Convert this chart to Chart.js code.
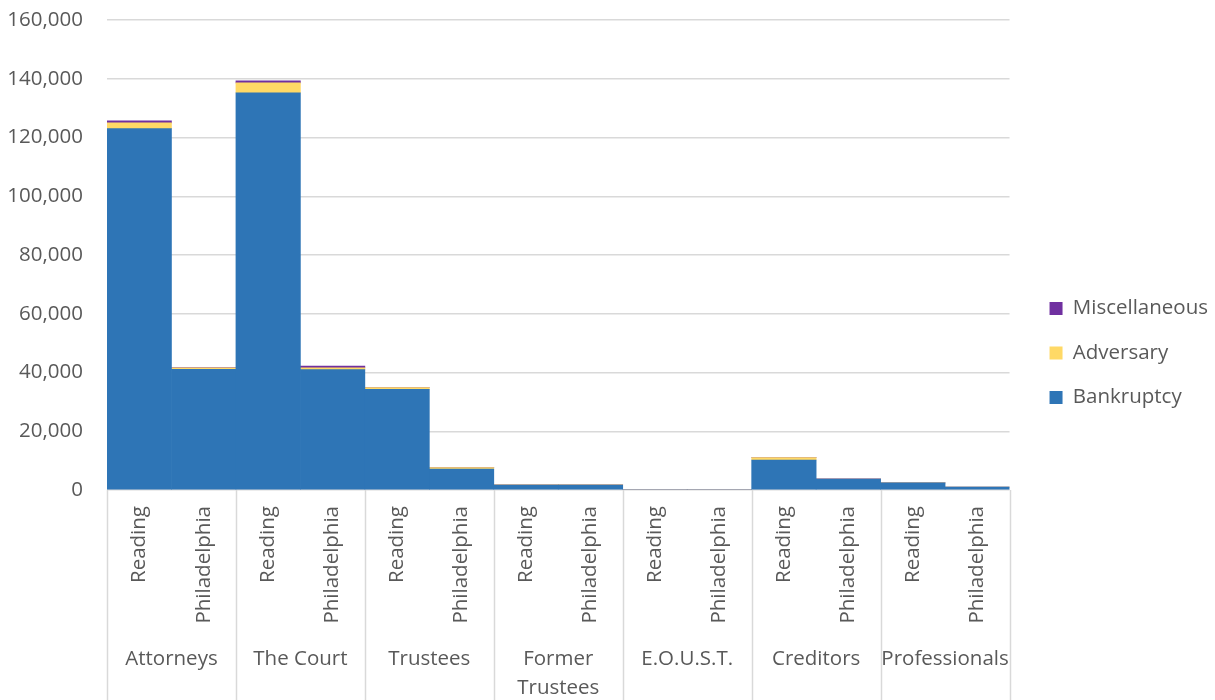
<!DOCTYPE html>
<html>
<head>
<meta charset="utf-8">
<script src="https://cdn.jsdelivr.net/npm/chart.js@4"></script>
<style>
  html, body { margin: 0; padding: 0; background: #fff; }
  #wrap { width: 1215px; height: 700px; }
</style>
</head>
<body>
<div id="wrap"><canvas id="chart" width="1215" height="700"></canvas></div>
<script>
// categories
const groups = ['Attorneys', 'The Court', 'Trustees', ['Former', 'Trustees'], 'E.O.U.S.T.', 'Creditors', 'Professionals'];
const sites = ['Reading', 'Philadelphia'];

// series values (Reading, Philadelphia per group)
const bankruptcy    = [123000, 41100, 135200, 41000, 34300, 7100, 1700, 1700, 0, 0, 10200, 3700, 2400, 1000];
const adversary     = [2000, 500, 3400, 600, 600, 500, 60, 50, 0, 0, 800, 60, 40, 20];
const miscellaneous = [700, 100, 700, 600, 60, 30, 10, 10, 0, 0, 40, 10, 10, 10];

const yTicks = [0, 20000, 40000, 60000, 80000, 100000, 120000, 140000, 160000];

const subLabels = [];
groups.forEach(() => sites.forEach(s => subLabels.push(s)));

const txt = '#595959';
const grid = '#d9d9d9';
const font = { family: '"Open Sans", sans-serif', size: 20.5 };

// separator lines between groups, down through the label area
const groupLines = {
    id: 'groupLines',
    afterDraw(chart) {
        const ctx = chart.ctx;
        const x = chart.scales.x;
        const area = chart.chartArea;
        const w = x.getPixelForValue(1) - x.getPixelForValue(0);
        ctx.save();
        ctx.strokeStyle = grid;
        ctx.lineWidth = 1.5;
        for (let i = 0; i <= groups.length; i++) {
            const px = Math.round(x.getPixelForValue(i * sites.length) - w / 2) + 0.5;
            ctx.beginPath();
            ctx.moveTo(px, area.bottom);
            ctx.lineTo(px, chart.height);
            ctx.stroke();
        }
        ctx.restore();
    }
};

function noVPad(axis) {
    axis.paddingTop = 0;
    axis.paddingBottom = 0;
}

new Chart(document.getElementById('chart'), {
    type: 'bar',
    data: {
        labels: subLabels,
        datasets: [
            { label: 'Bankruptcy', data: bankruptcy, backgroundColor: '#2e75b6' },
            { label: 'Adversary', data: adversary, backgroundColor: '#ffd966' },
            { label: 'Miscellaneous', data: miscellaneous, backgroundColor: '#7030a0' }
        ]
    },
    options: {
        responsive: false,
        animation: false,
        barPercentage: 1,
        categoryPercentage: 1,
        layout: { padding: { left: 8, top: 6, right: -3, bottom: 0 } },
        plugins: {
            legend: {
                position: 'right',
                reverse: true,
                labels: { boxWidth: 13, boxHeight: 13, padding: 24, color: txt, font: font }
            },
            tooltip: { enabled: false }
        },
        scales: {
            x: {
                stacked: true,
                grid: { display: false, drawTicks: false },
                border: { display: false },
                ticks: { color: txt, font: font, minRotation: 90, maxRotation: 90, padding: 16, autoSkip: false },
                afterFit(axis) { axis.height = 136; noVPad(axis); }
            },
            x2: {
                type: 'category',
                labels: groups,
                offset: true,
                position: 'bottom',
                grid: { display: false, drawTicks: false },
                border: { display: false },
                ticks: { color: txt, font: { family: font.family, size: font.size, lineHeight: 1.4 }, maxRotation: 0, padding: 19, autoSkip: false },
                afterFit(axis) { axis.height = 74; noVPad(axis); }
            },
            y: {
                stacked: true,
                min: 0,
                max: 160000,
                afterBuildTicks(axis) { axis.ticks = yTicks.map(v => ({ value: v })); },
                grid: { color: grid, lineWidth: 1.5, drawTicks: false },
                border: { display: false },
                ticks: {
                    color: txt, font: font, padding: 24,
                    callback: v => v.toLocaleString('en-US')
                },
                afterFit(axis) { axis.width = 99; axis.paddingTop = 20; axis.paddingBottom = 0; }
            },
            // empty spacer between plot and legend
            gap: {
                type: 'linear',
                position: 'right',
                display: true,
                grid: { display: false },
                border: { display: false },
                ticks: { display: false },
                afterFit(axis) { axis.width = 16; noVPad(axis); }
            }
        }
    },
    plugins: [groupLines]
});
</script>
</body>
</html>
